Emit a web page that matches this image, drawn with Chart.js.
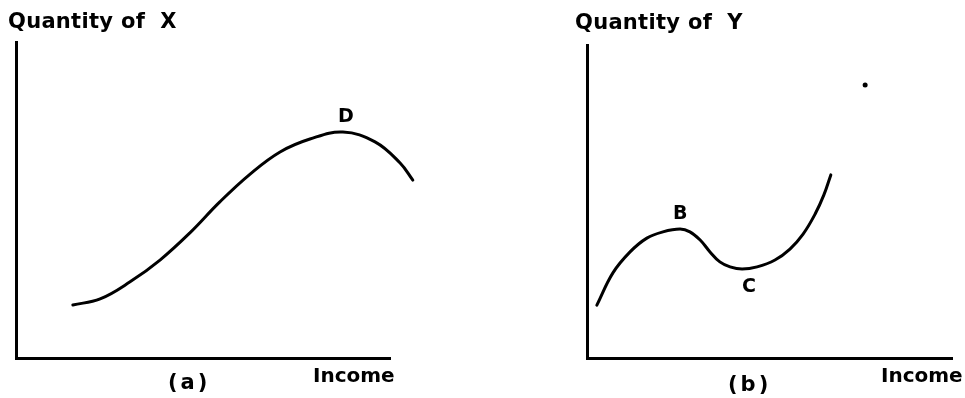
<!DOCTYPE html>
<html><head><meta charset="utf-8">
<script src="https://cdn.jsdelivr.net/npm/chart.js@4.4.0/dist/chart.umd.min.js"></script>
<style>
html,body{margin:0;padding:0;background:#fff;}
#wrap{position:relative;width:965px;height:398px;overflow:hidden;background:#fff;}
canvas{position:absolute;top:0;}
.t{position:absolute;font-family:"DejaVu Sans",sans-serif;font-weight:bold;color:#000;white-space:pre;line-height:21px;font-size:21px;}
</style></head><body>
<div id="wrap">
<canvas id="ca" width="480" height="398" style="left:0"></canvas>
<canvas id="cb" width="485" height="398" style="left:480px"></canvas>
<div class="t" style="left:8px;top:11px;letter-spacing:0.3px">Quantity of  X</div>
<div class="t" style="left:575px;top:12px;letter-spacing:0.3px">Quantity of  Y</div>
<div class="t" style="left:168px;top:372px;letter-spacing:3px">(a)</div>
<div class="t" style="left:728px;top:374px;letter-spacing:3px">(b)</div>
<div class="t" style="left:313px;top:365px;font-size:20px">Income</div>
<div class="t" style="left:881px;top:365px;font-size:20px">Income</div>
<div class="t" style="left:338px;top:105px;font-size:19px">D</div>
<div class="t" style="left:673px;top:202px;font-size:19px">B</div>
<div class="t" style="left:742px;top:275px;font-size:19px">C</div>
</div>
<script>
// Panel (a): Income vs Quantity of X
const incomeA = [15.2, 22.5, 30.5, 38.5, 46.5, 54.5, 62.6, 70.6, 78.6, 87.4, 96.0, 102.7, 106.1];
const qtyX    = [16.8, 18.7, 24.1, 31.0, 39.6, 49.4, 58.2, 65.2, 69.3, 71.5, 68.4, 61.7, 56.3];
// Panel (b): Income vs Quantity of Y
const incomeB = [2.7, 7.1, 11.8, 16.4, 20.8, 25.5, 28.2, 31.0, 33.7, 36.4, 39.2, 42.5, 46.6, 51.5, 55.6, 59.2, 62.5, 64.9, 66.8];
const qtyY    = [16.9, 27.2, 33.9, 38.3, 40.3, 41.2, 40.3, 37.7, 33.9, 30.7, 29.1, 28.4, 29.1, 31.3, 34.8, 39.6, 46.0, 52.1, 58.5];
// Stray dot in panel (b)
const dotB = [{x: 76.2, y: 87.2}];

function pts(xs, ys){ return xs.map((x,i)=>({x:x, y:ys[i]})); }

function axis(){
  return {type:'linear', bounds:'data',
    afterDataLimits:function(s){ s.min = 0; s.max = 100; },
    ticks:{display:false}, grid:{display:false, drawTicks:false},
    border:{display:true, color:'#000', width:3}};
}

function makeChart(id, data, extra, padding){
  const ds = [{data:data, showLine:true, borderColor:'#000', borderWidth:3, pointRadius:0,
     tension:0.4, fill:false, clip:false, borderCapStyle:'round', borderJoinStyle:'round'}];
  if (extra) ds.push({data:extra, showLine:false, pointRadius:2.5, backgroundColor:'#000', borderWidth:0, clip:false});
  return new Chart(document.getElementById(id), {
    type:'scatter',
    data:{datasets:ds},
    options:{responsive:false, animation:false,
      layout:{padding:padding},
      plugins:{legend:{display:false}, tooltip:{enabled:false}},
      scales:{x:axis(), y:axis()}}
  });
}

makeChart('ca', pts(incomeA, qtyX), null, {left:16, top:42, right:90, bottom:40});
makeChart('cb', pts(incomeB, qtyY), dotB, {left:107, top:45, right:13, bottom:40});
</script>
</body></html>
